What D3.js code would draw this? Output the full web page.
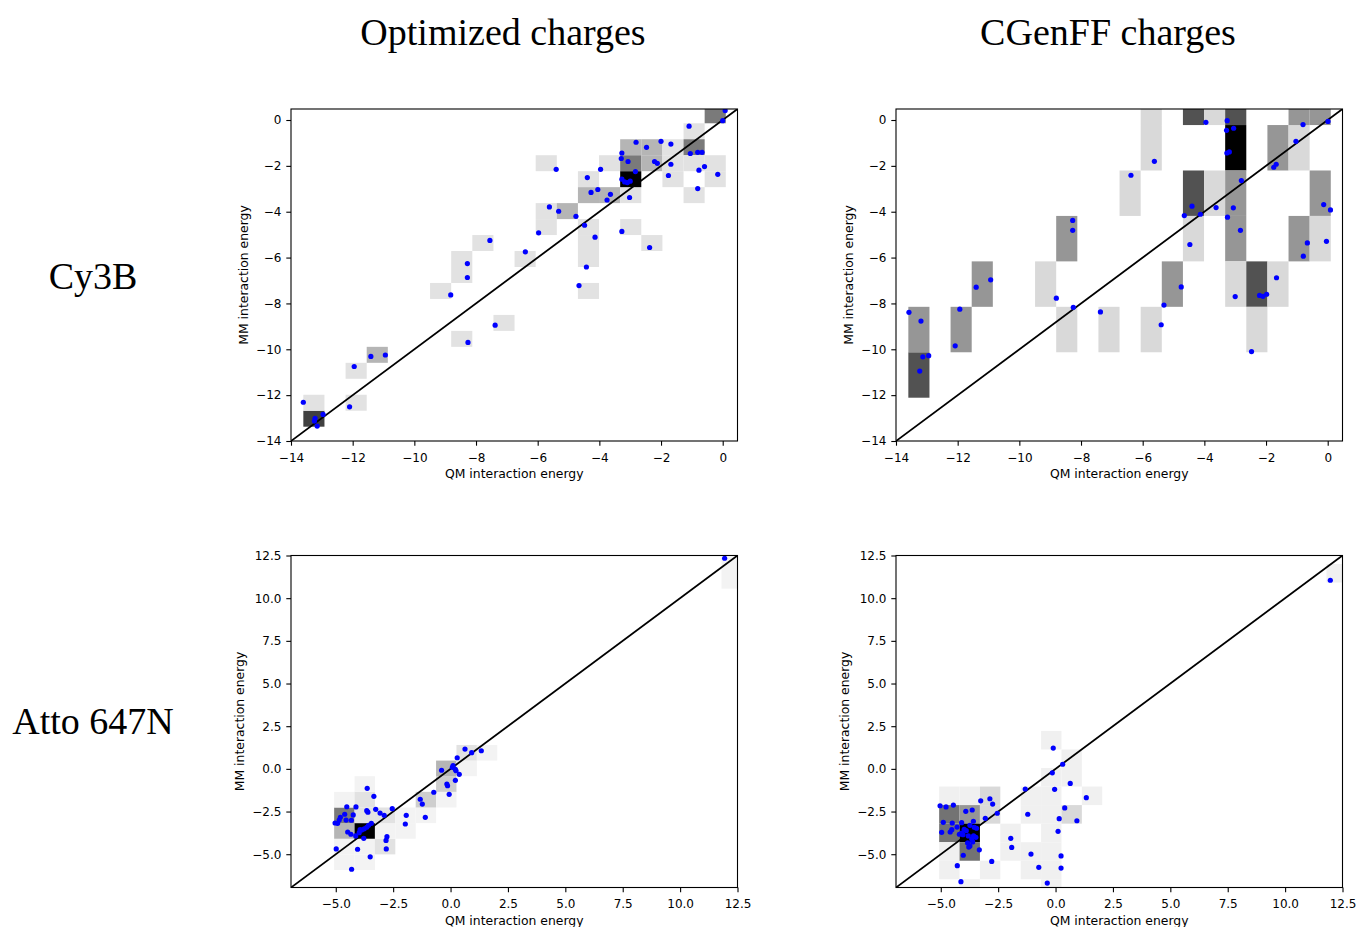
<!DOCTYPE html>
<html><head><meta charset="utf-8">
<script src="https://cdn.jsdelivr.net/npm/d3@7"></script>
<style>body{margin:0;background:#fff}svg{display:block}</style>
</head><body>
<svg id="chart" width="1359" height="927"></svg>
<script>
// ---------------- DATA ----------------
const colTitles = ["Optimized charges", "CGenFF charges"];
const rowTitles = ["Cy3B", "Atto 647N"];
const xLabel = "QM interaction energy";
const yLabel = "MM interaction energy";

const topTicks = [-14, -12, -10, -8, -6, -4, -2, 0];
const bottomTicks = [-5, -2.5, 0, 2.5, 5, 7.5, 10, 12.5];
const topLimits = [-14, 0.48];
const bottomLimits = [-6.95, 12.5];

// histogram bin origin/size: [x0, dx, y0, dy]
const cy3bOptBins = [-13.6, 0.685, -13.376, 0.6965];
const cy3bCgBins = [-13.6, 0.685, -12.112, 1.982];
const attoOptBins = [-5.07, 0.888, -5.925, 0.9157];
const attoCgBins = [-5.07, 0.888, -7.556, 1.0867];

// histogram cells: [column, row, count]
const cy3bOptCells = [[0,0,4],[0,1,1],[2,1,1],[2,3,1],[3,4,2],[6,8,1],[7,9,1],[7,10,1],[7,5,1],[8,11,1],[9,6,1],[10,10,1],[11,12,1],[11,13,1],[12,13,2],[11,16,1],[13,15,1],[13,14,2],[14,14,2],[15,14,1],[13,10,1],[13,11,1],[13,12,1],[13,8,1],[15,12,1],[16,11,1],[14,16,1],[15,15,5],[15,16,3],[15,17,2],[16,16,2],[16,17,2],[17,15,1],[17,16,1],[17,17,1],[18,18,1],[18,17,3],[18,16,1],[18,14,1],[19,15,1],[19,16,1],[19,19,3]];
const cy3bCgCells = [[0,0,3],[0,1,2],[2,1,2],[3,2,2],[6,2,1],[7,1,1],[7,3,2],[9,1,1],[10,4,1],[11,5,1],[11,6,1],[11,1,1],[12,2,2],[13,6,3],[14,6,1],[15,6,3],[15,5,4],[13,4,3],[14,4,1],[15,4,2],[15,3,2],[13,3,1],[15,2,1],[16,2,3],[17,2,1],[16,1,1],[17,5,2],[18,5,1],[18,6,2],[19,6,2],[19,4,2],[18,3,2],[19,3,1]];
const attoOptCells = [[0,0,1],[0,1,1],[0,2,4],[0,3,6],[0,4,1],[1,0,1],[1,1,1],[1,2,10],[1,3,2],[1,4,2],[1,5,1],[2,1,2],[2,2,1],[2,3,2],[3,2,1],[3,3,1],[4,3,1],[4,4,3],[5,4,1],[5,5,3],[5,6,4],[6,6,1],[6,7,2],[7,7,1],[19,18,1],[19,19,1]];
const attoCgCells = [[0,5,1],[0,4,5],[0,3,5],[0,2,1],[0,1,1],[1,5,1],[1,4,4],[1,3,8],[1,2,5],[1,0,1],[2,5,2],[2,4,2],[2,1,1],[3,3,1],[3,2,1],[4,5,1],[4,4,1],[4,2,1],[4,1,1],[5,8,1],[5,6,1],[5,5,1],[5,4,1],[5,3,1],[5,2,1],[5,1,1],[5,0,1],[6,7,1],[6,6,1],[6,4,2],[7,5,1],[19,17,1]];

// scatter points: [QM, MM]
const cy3bOptPoints = [[-13.60,-12.31],[-12.96,-12.84],[-13.22,-13.01],[-13.24,-13.13],[-13.15,-13.35],[-12.10,-12.51],[-11.95,-10.75],[-11.41,-10.31],[-10.94,-10.25],[-8.82,-7.63],[-8.28,-6.26],[-8.28,-6.87],[-7.55,-5.25],[-8.26,-9.70],[-7.38,-8.95],[-6.40,-5.75],[-5.97,-4.92],[-5.62,-3.79],[-5.32,-3.98],[-4.76,-4.20],[-5.40,-2.15],[-4.39,-2.51],[-3.96,-2.15],[-4.27,-3.16],[-4.05,-3.03],[-3.64,-3.24],[-3.75,-3.49],[-3.02,-3.38],[-4.48,-4.59],[-4.14,-5.11],[-3.27,-4.86],[-2.37,-5.56],[-4.42,-6.41],[-4.66,-7.22],[-2.81,-0.97],[-2.47,-1.19],[-2.00,-0.93],[-1.68,-1.05],[-3.27,-1.44],[-3.29,-1.68],[-3.07,-1.81],[-2.21,-1.81],[-2.12,-1.89],[-1.68,-1.93],[-2.83,-2.25],[-3.27,-2.58],[-3.18,-2.70],[-3.09,-2.73],[-3.00,-2.67],[-1.76,-2.42],[-1.09,-0.27],[-1.05,-1.46],[-0.81,-1.41],[-0.67,-1.41],[-0.77,-2.19],[-0.59,-2.03],[-0.16,-2.37],[-0.81,-2.99],[0.08,0.41],[0.00,-0.03]];
const cy3bCgPoints = [[-13.58,-8.39],[-13.19,-8.77],[-13.13,-10.33],[-12.94,-10.28],[-13.23,-10.95],[-11.93,-8.25],[-12.08,-9.85],[-11.40,-7.29],[-10.93,-6.97],[-8.80,-7.77],[-8.25,-8.17],[-8.27,-4.38],[-8.27,-4.81],[-7.37,-8.37],[-6.38,-2.41],[-5.62,-1.80],[-5.40,-8.93],[-4.75,-7.28],[-5.31,-8.07],[-3.95,-0.10],[-3.26,-0.03],[-3.28,-0.45],[-3.05,-0.36],[-3.27,-1.44],[-3.19,-1.39],[-4.40,-3.76],[-4.65,-4.17],[-4.13,-4.11],[-3.62,-3.82],[-2.80,-2.64],[-3.06,-3.83],[-3.25,-4.24],[-2.83,-4.81],[-4.47,-5.43],[-3.00,-7.70],[-2.21,-7.65],[-2.10,-7.69],[-1.98,-7.60],[-1.66,-6.88],[-2.47,-10.10],[-1.67,-1.93],[-1.75,-2.06],[-1.03,-0.93],[-0.80,-0.20],[0.01,-0.06],[-0.13,-3.69],[0.09,-3.92],[-0.66,-5.36],[-0.79,-5.94],[-0.04,-5.29]];
const attoOptPoints = [[-3.63,-1.14],[-3.34,-1.61],[-4.52,-2.22],[-4.12,-2.23],[-3.65,-2.45],[-3.60,-2.54],[-3.26,-2.37],[-3.07,-2.59],[-2.89,-2.72],[-2.54,-2.33],[-4.61,-2.66],[-4.80,-2.84],[-4.85,-3.00],[-4.55,-3.00],[-4.32,-3.01],[-4.24,-2.70],[-5.03,-3.17],[-4.92,-3.19],[-4.48,-3.70],[-4.34,-3.83],[-4.13,-3.93],[-3.98,-3.74],[-3.87,-3.58],[-3.76,-3.51],[-3.65,-3.42],[-3.57,-3.31],[-3.45,-3.19],[-3.94,-3.56],[-3.78,-4.07],[-2.77,-3.97],[-2.81,-4.19],[-4.98,-4.69],[-4.05,-4.71],[-2.80,-4.69],[-3.50,-5.15],[-4.31,-5.88],[-1.93,-2.72],[-1.97,-3.23],[-1.32,-1.78],[-1.23,-2.06],[-1.10,-2.84],[-0.73,-1.37],[-0.39,-0.08],[-0.16,-0.89],[-0.13,-0.99],[-0.06,-1.49],[0.08,0.09],[0.21,-0.03],[0.24,-0.11],[0.11,0.19],[0.29,0.65],[0.21,-0.67],[0.38,-0.32],[0.63,1.16],[0.92,0.95],[1.34,1.06],[11.94,12.34]];
const attoCgPoints = [[-0.10,1.22],[0.31,0.27],[-0.14,-0.23],[0.64,-0.85],[-1.32,-1.18],[-0.04,-1.20],[1.34,-1.69],[0.40,-2.29],[0.16,-2.92],[0.93,-3.04],[0.11,-3.66],[-1.21,-2.66],[-1.95,-4.07],[-1.91,-4.60],[-1.07,-4.99],[0.24,-5.10],[-0.73,-5.77],[0.24,-5.81],[-0.36,-6.69],[-5.03,-2.16],[-4.77,-2.23],[-4.45,-2.12],[-3.26,-1.87],[-2.86,-1.75],[-2.74,-2.06],[-3.91,-2.49],[-3.63,-2.41],[-3.06,-2.90],[-2.54,-2.60],[-4.89,-3.13],[-4.50,-3.17],[-4.09,-3.15],[-3.58,-3.07],[-4.96,-3.72],[-4.59,-3.70],[-4.52,-3.56],[-4.29,-3.41],[-4.19,-3.83],[-3.98,-3.54],[-3.89,-3.62],[-3.73,-3.31],[-3.54,-3.42],[-3.44,-3.48],[-4.09,-3.77],[-4.03,-3.86],[-3.80,-3.93],[-3.57,-3.92],[-3.47,-4.01],[-3.65,-4.11],[-3.83,-4.34],[-3.73,-4.52],[-3.78,-4.58],[-3.61,-4.28],[-3.32,-4.74],[-4.02,-5.06],[-4.28,-5.67],[-2.78,-5.42],[-4.12,-6.61],[11.97,11.05]];

// ---------------- LAYOUT ----------------
const W = 446.5, H = 332;
const panels = [
  {left: 291, top: 109, lim: topLimits, ticks: topTicks, bins: cy3bOptBins, cells: cy3bOptCells, pts: cy3bOptPoints, fmt: "top", ylabX: 244},
  {left: 896, top: 109, lim: topLimits, ticks: topTicks, bins: cy3bCgBins, cells: cy3bCgCells, pts: cy3bCgPoints, fmt: "top", ylabX: 849},
  {left: 291, top: 555.5, lim: bottomLimits, ticks: bottomTicks, bins: attoOptBins, cells: attoOptCells, pts: attoOptPoints, fmt: "bottom", ylabX: 240},
  {left: 896, top: 555.5, lim: bottomLimits, ticks: bottomTicks, bins: attoCgBins, cells: attoCgCells, pts: attoCgPoints, fmt: "bottom", ylabX: 845}
];

const svg = d3.select("#chart");
const greys = d3.scaleLinear()
  .domain([0, .125, .25, .375, .5, .625, .75, .875, 1])
  .range(["#ffffff","#f0f0f0","#d9d9d9","#bdbdbd","#969696","#737373","#525252","#252525","#000000"]);
const minus = s => s.replace("-", "\u2212");
const fmtTop = d => minus(d3.format("d")(d));
const fmtBottom = d => minus(d3.format(".1f")(d));
const tickFont = "DejaVu Sans";

panels.forEach((p, k) => {
  const x = d3.scaleLinear().domain(p.lim).range([0, W]);
  const y = d3.scaleLinear().domain(p.lim).range([H, 0]);
  const g = svg.append("g").attr("transform", `translate(${p.left},${p.top})`);
  const clipId = "clip" + k;
  g.append("clipPath").attr("id", clipId).append("rect").attr("width", W).attr("height", H);
  const inner = g.append("g").attr("clip-path", `url(#${clipId})`);
  const [x0, dx, y0, dy] = p.bins;
  const maxC = d3.max(p.cells, c => c[2]);
  inner.selectAll("rect.cell").data(p.cells).join("rect")
    .attr("class", "cell")
    .attr("x", c => x(x0 + c[0] * dx))
    .attr("width", c => x(x0 + (c[0] + 1) * dx) - x(x0 + c[0] * dx))
    .attr("y", c => y(y0 + (c[1] + 1) * dy))
    .attr("height", c => y(y0 + c[1] * dy) - y(y0 + (c[1] + 1) * dy))
    .attr("fill", c => greys(c[2] / maxC));
  inner.append("line")
    .attr("x1", x(p.lim[0])).attr("y1", y(p.lim[0]))
    .attr("x2", x(p.lim[1])).attr("y2", y(p.lim[1]))
    .attr("stroke", "#000").attr("stroke-width", 1.8);
  inner.selectAll("circle").data(p.pts).join("circle")
    .attr("cx", d => x(d[0])).attr("cy", d => y(d[1]))
    .attr("r", 2.6).attr("fill", "#0000ff");

  const fmt = p.fmt === "top" ? fmtTop : fmtBottom;
  const xAxis = g.append("g").attr("transform", `translate(0,${H})`)
    .call(d3.axisBottom(x).tickValues(p.ticks).tickFormat(fmt).tickSize(4.7).tickPadding(7.3).tickSizeOuter(0));
  const yAxis = g.append("g")
    .call(d3.axisLeft(y).tickValues(p.ticks).tickFormat(fmt).tickSize(4.7).tickPadding(4.9).tickSizeOuter(0));
  [xAxis, yAxis].forEach(a => {
    a.select(".domain").remove();
    a.selectAll("line").attr("stroke", "#000").attr("stroke-width", 1.1);
    a.selectAll("text").attr("font-family", tickFont).attr("font-size", 12).attr("fill", "#000");
  });
  g.append("rect").attr("width", W).attr("height", H)
    .attr("fill", "none").attr("stroke", "#000").attr("stroke-width", 1.1);

  g.append("text").attr("x", W / 2).attr("y", H + 37)
    .attr("text-anchor", "middle").attr("font-family", tickFont).attr("font-size", 12.4)
    .text(xLabel);
  svg.append("text")
    .attr("transform", `translate(${p.ylabX},${p.top + H / 2}) rotate(-90)`)
    .attr("dy", "0.35em")
    .attr("text-anchor", "middle").attr("font-family", tickFont).attr("font-size", 12.4)
    .text(yLabel);
});

const serif = "Liberation Serif";
[503, 1108].forEach((cx, i) => {
  svg.append("text").attr("x", cx).attr("y", 45).attr("text-anchor", "middle")
    .attr("font-family", serif).attr("font-size", 38).text(colTitles[i]);
});
[289, 734].forEach((by, i) => {
  svg.append("text").attr("x", 93).attr("y", by).attr("text-anchor", "middle")
    .attr("font-family", serif).attr("font-size", 38).text(rowTitles[i]);
});
</script>
</body></html>
